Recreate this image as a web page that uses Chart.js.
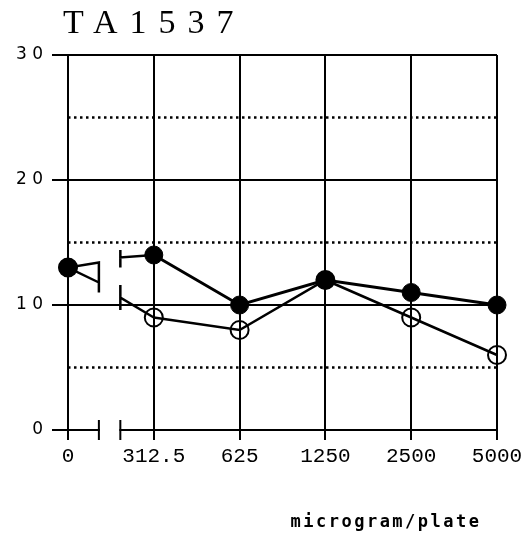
<!DOCTYPE html>
<html>
<head>
<meta charset="utf-8">
<script src="https://cdn.jsdelivr.net/npm/chart.js@4/dist/chart.umd.min.js"></script>
<style>
    body { margin: 0; background: #fff; }
</style>
</head>
<body>
<canvas id="grafico" width="529" height="535"></canvas>
<script>
// dados
const categorias = ['0', '312.5', '625', '1250', '2500', '5000'];
const valoresCheios = [13, 14, 10, 12, 11, 10];
const valoresAbertos = [13, 9, 8, 12, 9, 6];
const rotulosY = { 0: '0', 10: '1 0', 20: '2 0', 30: '3 0' };
const linhasPontilhadas = [5, 15, 25];

// quebra do eixo x entre 0 e 312.5
const quebraEsq = 0.36;
const quebraDir = 0.61;
const tocoEsq = [[0.36, 11.0], [0.36, 13.4], [0, 13], [0.36, 11.8]];
const tocoDirCheio = [[0.61, 14.4], [0.61, 13.0], [0.61, 13.8], [1, 14]];
const tocoDirAberto = [[0.61, 11.6], [0.61, 9.6], [0.61, 10.6], [1, 9]];

const titulo = 'TA1537';
const tituloEixoX = 'microgram/plate';

function pontos(valores) {
    return valores.map((v, i) => ({ x: i, y: v }));
}
function pares(lista) {
    return lista.map(p => ({ x: p[0], y: p[1] }));
}

function toco(lista) {
    return {
        data: pares(lista),
        borderColor: '#000',
        borderWidth: 2.5,
        pointRadius: 0,
        tension: 0,
        clip: false,
        order: 5
    };
}

let datasets = [];

// linhas pontilhadas
for (let i = 0; i < linhasPontilhadas.length; i++) {
    datasets.push({
        data: [{ x: 0, y: linhasPontilhadas[i] }, { x: 5, y: linhasPontilhadas[i] }],
        borderColor: '#000',
        borderWidth: 2.5,
        borderDash: [2.5, 3.5],
        pointRadius: 0,
        order: 10
    });
}

datasets.push(toco(tocoEsq));
datasets.push(toco(tocoDirCheio));
datasets.push(toco(tocoDirAberto));

// serie com circulo aberto
datasets.push({
    data: pontos(valoresAbertos),
    borderColor: '#000',
    borderWidth: 2.5,
    pointRadius: 9,
    pointBorderWidth: 2,
    pointBackgroundColor: 'rgba(0,0,0,0)',
    pointBorderColor: '#000',
    tension: 0,
    clip: false,
    order: 2,
    segment: {
        borderColor: ctx => ctx.p0DataIndex === 0 ? 'rgba(0,0,0,0)' : '#000'
    }
});

// serie com circulo cheio
datasets.push({
    data: pontos(valoresCheios),
    borderColor: '#000',
    borderWidth: 3,
    pointRadius: 9,
    pointBorderWidth: 1,
    pointBackgroundColor: '#000',
    pointBorderColor: '#000',
    tension: 0,
    clip: false,
    order: 1,
    segment: {
        borderColor: ctx => ctx.p0DataIndex === 0 ? 'rgba(0,0,0,0)' : '#000'
    }
});

// desenha a quebra do eixo x e os textos
const pluginExtras = {
    id: 'extras',
    afterDraw(chart) {
        const ctx = chart.ctx;
        const x = chart.scales.x;
        const y = chart.scales.y;
        const y0 = y.getPixelForValue(0);
        const xa = x.getPixelForValue(quebraEsq);
        const xb = x.getPixelForValue(quebraDir);

        ctx.save();
        ctx.fillStyle = '#fff';
        ctx.fillRect(xa + 1, y0 - 2, xb - xa - 2, 4);
        ctx.strokeStyle = '#000';
        ctx.lineWidth = 2;
        ctx.beginPath();
        ctx.moveTo(xa, y0 - 10);
        ctx.lineTo(xa, y0 + 10);
        ctx.moveTo(xb, y0 - 10);
        ctx.lineTo(xb, y0 + 10);
        ctx.stroke();

        ctx.fillStyle = '#000';
        ctx.textBaseline = 'alphabetic';
        ctx.textAlign = 'left';
        ctx.font = '34px "Liberation Serif"';
        ctx.letterSpacing = '12px';
        ctx.fillText(titulo, chart.chartArea.left - 5, chart.chartArea.top - 22);

        ctx.font = 'bold 17px "DejaVu Sans Mono"';
        ctx.letterSpacing = '2.5px';
        ctx.textAlign = 'center';
        ctx.fillText(tituloEixoX, 386, y0 + 97);
        ctx.restore();
    }
};

const config = {
    type: 'line',
    data: { datasets: datasets },
    options: {
        responsive: false,
        animation: false,
        devicePixelRatio: 1,
        layout: { padding: { left: 0, right: 32, top: 55, bottom: 60 } },
        plugins: {
            legend: { display: false },
            tooltip: { enabled: false }
        },
        scales: {
            x: {
                type: 'linear',
                min: 0,
                max: 5,
                afterFit: s => { s.height = 45; },
                ticks: {
                    stepSize: 1,
                    padding: 4,
                    color: '#000',
                    font: { family: '"Liberation Mono"', size: 21 },
                    callback: v => categorias[v]
                },
                grid: { color: '#000', lineWidth: 2, tickLength: 10 },
                border: { display: false }
            },
            y: {
                min: 0,
                max: 30,
                afterFit: s => { s.width = 68; },
                ticks: {
                    stepSize: 10,
                    padding: 9,
                    color: '#000',
                    font: { family: '"DejaVu Sans"', size: 17 },
                    callback: v => rotulosY[v]
                },
                grid: { color: '#000', lineWidth: 2, tickLength: 16 },
                border: { display: false }
            }
        }
    },
    plugins: [pluginExtras]
};

new Chart(document.getElementById('grafico'), config);
</script>
</body>
</html>
